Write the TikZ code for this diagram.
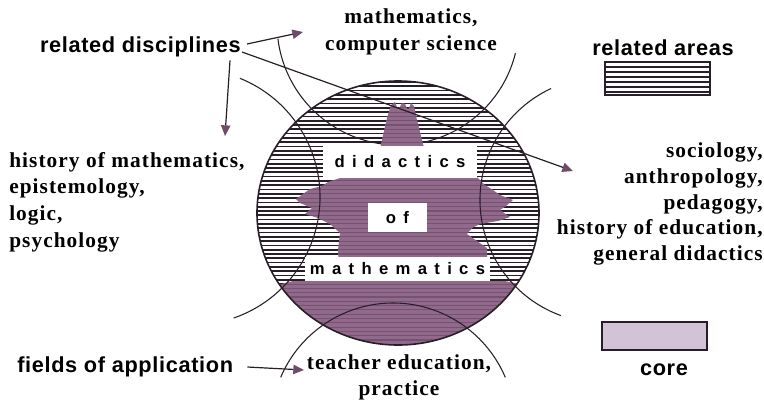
\documentclass[tikz,border=0pt]{standalone}
\usepackage{fontspec}
\setmainfont{Liberation Serif}
\newfontfamily\labsans[LetterSpace=3]{Liberation Sans}
\newfontfamily\labserif[LetterSpace=5]{Liberation Serif}
\newfontfamily\boxsans[LetterSpace=44]{Liberation Sans}
\usetikzlibrary{arrows.meta,calc}
\definecolor{hatchc}{RGB}{40,30,40}
\definecolor{corec}{RGB}{145,106,139}
\definecolor{corelines}{RGB}{118,82,113}
\definecolor{corelite}{RGB}{210,196,214}
\definecolor{tipc}{RGB}{110,75,105}
\definecolor{inkc}{RGB}{40,30,40}
\newcommand\coreshape{(378,170) -- (380,150) -- (383,135) -- (387,118) -- (391,105) -- (395,102) -- (398,110) -- (402,103) -- (405,104) -- (408,110) -- (411,103) -- (414,106) -- (417,120) -- (421,136) -- (425,152) -- (427,170) -- cycle
 (345,170) -- (340,178) -- (328,182) -- (322,186) -- (310,189) -- (303,194) -- (296,199) -- (300,203) -- (312,208) -- (305,214) -- (318,218) -- (330,224) -- (340,233) -- (338,250) -- (340,281) -- (487,281) -- (487,248) -- (467,234) -- (472,228) -- (480,224) -- (498,221) -- (510,217) -- (500,210) -- (506,206) -- (513,200) -- (500,195) -- (493,190) -- (485,185) -- (478,178) -- (470,170) -- cycle
 (250,292) -- (293,281) -- (505,281) -- (550,290) -- (550,350) -- (250,350) -- cycle}
\newcommand\maincircle{(398,213) ellipse [x radius=141, y radius=132]}
\begin{document}
\begin{tikzpicture}[x=0.75pt,y=-0.75pt,
  sanslab/.style={font=\labsans\bfseries\fontsize{16.3}{19}\selectfont, inner sep=0pt, text=black},
  seriflab/.style={font=\labserif\bfseries\fontsize{16}{20}\selectfont, inner sep=0pt, text=black},
  wordbox/.style={fill=white, inner sep=0pt, font=\boxsans\bfseries\fontsize{12.5}{14}\selectfont},
  arcline/.style={inkc, line width=0.8pt},
  arr/.style={inkc, line width=0.9pt, -{Triangle[length=8pt,width=7pt,color=tipc]}},
  hatchline/.style={hatchc, line width=1.25pt},
]
\useasboundingbox (0,0) rectangle (764,401);

% hatching of the related areas
\begin{scope}
  \clip \maincircle;
  \foreach \k in {0,...,62} \draw[hatchline] (250,{82+\k*4.3}) -- (550,{82+\k*4.3});
\end{scope}

% top circle arc (behind the core)
\draw[arcline] ([shift={(14:121)}]398,24) arc[start angle=14, end angle=173, radius=121];

% core
\begin{scope}
  \clip \maincircle;
  \fill[corec] \coreshape;
  \clip \coreshape;
  \foreach \k in {0,...,62} \draw[corelines, line width=0.8pt] (250,{82+\k*4.3}) -- (550,{82+\k*4.3});
\end{scope}

% main circle
\draw[inkc, line width=1.2pt] \maincircle;

% other circle arcs
\draw[arcline] ([shift={(-68:128)}]192,197) arc[start angle=-68, end angle=71, radius=128];
\draw[arcline] ([shift={(110:123)}]603,200) arc[start angle=110, end angle=245, radius=123];
\draw[arcline] ([shift={(203:122)}]393,425) arc[start angle=203, end angle=337, radius=122];

% word boxes
\node[wordbox, minimum width=115.5pt, minimum height=24pt] (didbox) at (400,161.5) {didactics};
\node[wordbox, minimum width=44.25pt, minimum height=21.75pt] (ofbox) at (397.5,217.5) {of};
\node[wordbox, minimum width=138.75pt, minimum height=18pt] (mathbox) at (397.5,269) {mathematics};

% labels
\node[sanslab, anchor=east] (reldisc) at (241,47) {related disciplines};
\node[seriflab, align=center] (mathcs) at (411,32) {mathematics,\\computer science};
\node[sanslab] (relareas) at (663,48) {related areas};
\node[seriflab, align=left, anchor=west] (leftdisc) at (9,202) {history of mathematics,\\epistemology,\\logic,\\psychology};
\node[seriflab, align=right, anchor=east, font=\labserif\bfseries\fontsize{16}{19.2}\selectfont] (rightdisc) at (763,204) {sociology,\\anthropology,\\pedagogy,\\history of education,\\general didactics};
\node[sanslab, anchor=west] (fields) at (17,367) {fields of application};
\node[seriflab, align=center, font=\labserif\bfseries\fontsize{16}{19.5}\selectfont] (teach) at (399,377) {teacher education,\\practice};
\node[sanslab] (corelab) at (664,370) {core};

% legend
\node[draw=inkc, line width=1.1pt, minimum width=78.75pt, minimum height=24.75pt, inner sep=0pt] (hatchkey) at (657.5,78.5) {};
\foreach \y in {67,72,...,92} \draw[hatchc, line width=1pt] (606,\y) -- (709,\y);
\node[draw=inkc, fill=corelite, line width=1.1pt, minimum width=78.75pt, minimum height=21pt, inner sep=0pt] (corekey) at (654.5,336) {};

% arrows
\coordinate (tipMath) at (303,32);
\coordinate (tipHist) at (225,136);
\coordinate (tipSoc) at (573,171);
\coordinate (tipTeach) at (304,370);
\draw[arr] ($(reldisc.east)+(6,-3)$) -- (tipMath);
\draw[arr] ($(reldisc.south east)+(-11,3)$) -- (tipHist);
\draw[arr] ($(reldisc.east)+(1,5)$) -- (tipSoc);
\draw[arr] ($(fields.east)+(14,0)$) -- (tipTeach);
\end{tikzpicture}
\end{document}
